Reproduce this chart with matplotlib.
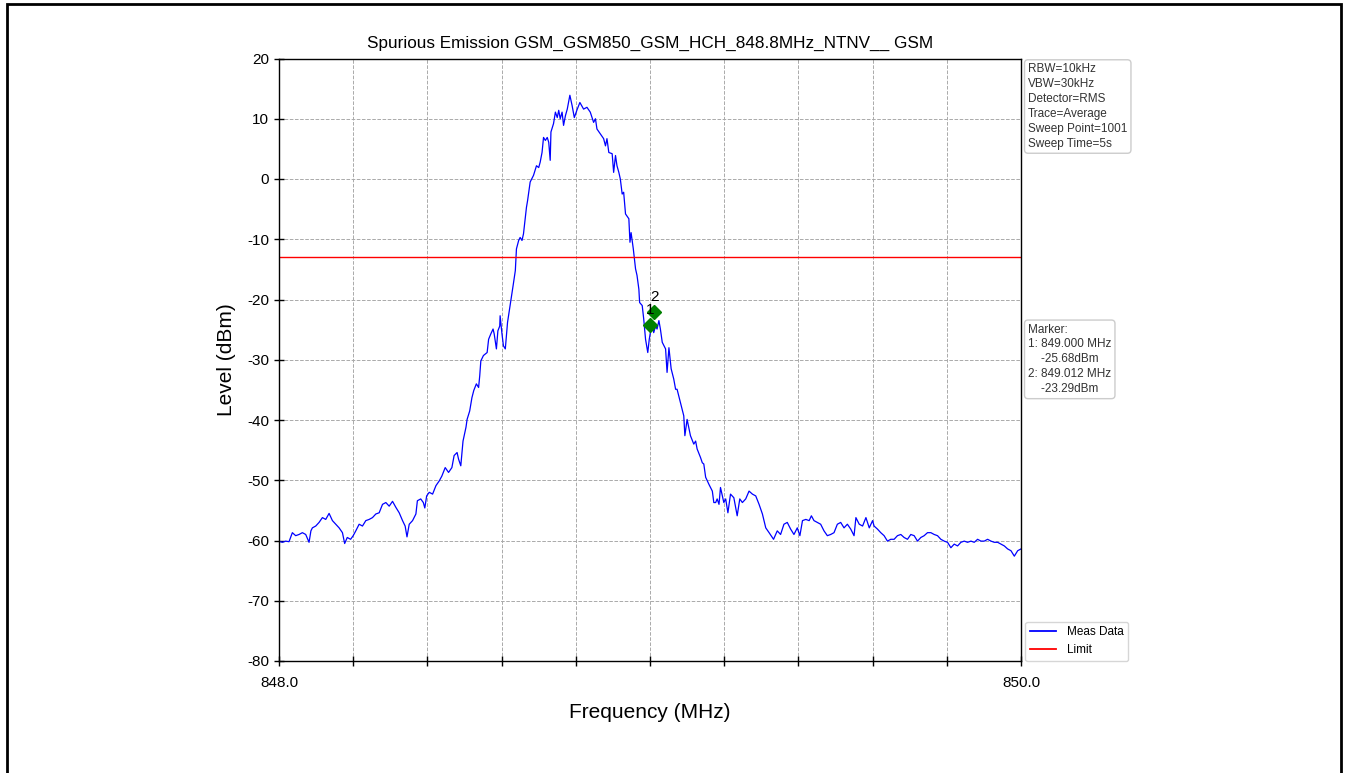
import matplotlib
matplotlib.use("Agg")
import matplotlib.pyplot as plt
from matplotlib.patches import Rectangle
from matplotlib.ticker import FixedLocator, FixedFormatter

plt.rcParams['font.family'] = ['Liberation Sans', 'DejaVu Sans']
plt.rcParams['axes.unicode_minus'] = False

# ---- data ----
freq_mhz = [
    848.000, 848.009, 848.018, 848.027, 848.036, 848.045, 848.054, 848.063, 848.072, 848.081,
    848.086, 848.090, 848.099, 848.108, 848.117, 848.126, 848.135, 848.144, 848.153, 848.162,
    848.171, 848.177, 848.184, 848.193, 848.200, 848.207, 848.216, 848.225, 848.234, 848.243,
    848.252, 848.261, 848.270, 848.279, 848.288, 848.297, 848.306, 848.315, 848.324, 848.333,
    848.340, 848.345, 848.351, 848.360, 848.369, 848.373, 848.382, 848.389, 848.393, 848.398,
    848.405, 848.414, 848.423, 848.432, 848.439, 848.448, 848.457, 848.466, 848.472, 848.480,
    848.484, 848.490, 848.496, 848.504, 848.507, 848.514, 848.520, 848.525, 848.532, 848.538,
    848.541, 848.544, 848.551, 848.561, 848.565, 848.571, 848.577, 848.580, 848.586, 848.590,
    848.595, 848.596, 848.601, 848.605, 848.610, 848.616, 848.623, 848.631, 848.637, 848.640,
    848.646, 848.650, 848.655, 848.659, 848.667, 848.670, 848.677, 848.686, 848.694, 848.700,
    848.704, 848.709, 848.713, 848.718, 848.723, 848.727, 848.731, 848.733, 848.740, 848.745,
    848.750, 848.754, 848.758, 848.763, 848.767, 848.772, 848.777, 848.784, 848.790, 848.796,
    848.804, 848.811, 848.821, 848.830, 848.839, 848.848, 848.853, 848.857, 848.866, 848.875,
    848.880, 848.884, 848.889, 848.898, 848.902, 848.907, 848.911, 848.916, 848.920, 848.925,
    848.929, 848.934, 848.943, 848.946, 848.949, 848.955, 848.961, 848.965, 848.970, 848.972,
    848.979, 848.983, 848.988, 848.994, 848.998, 849.001, 849.006, 849.010, 849.015, 849.019,
    849.024, 849.028, 849.033, 849.042, 849.046, 849.051, 849.057, 849.064, 849.069, 849.073,
    849.082, 849.091, 849.094, 849.100, 849.109, 849.118, 849.123, 849.127, 849.136, 849.141,
    849.145, 849.150, 849.159, 849.168, 849.172, 849.177, 849.181, 849.186, 849.190, 849.195,
    849.199, 849.204, 849.210, 849.217, 849.226, 849.235, 849.242, 849.249, 849.258, 849.267,
    849.276, 849.285, 849.294, 849.303, 849.312, 849.321, 849.333, 849.343, 849.352, 849.361,
    849.370, 849.379, 849.388, 849.397, 849.404, 849.411, 849.420, 849.429, 849.435, 849.442,
    849.451, 849.460, 849.469, 849.478, 849.487, 849.496, 849.505, 849.514, 849.523, 849.532,
    849.541, 849.550, 849.555, 849.564, 849.573, 849.582, 849.591, 849.600, 849.604, 849.613,
    849.622, 849.631, 849.640, 849.649, 849.658, 849.667, 849.676, 849.685, 849.694, 849.703,
    849.712, 849.721, 849.730, 849.739, 849.748, 849.757, 849.766, 849.775, 849.784, 849.793,
    849.802, 849.811, 849.820, 849.829, 849.838, 849.847, 849.856, 849.865, 849.874, 849.883,
    849.892, 849.901, 849.910, 849.919, 849.928, 849.937, 849.946, 849.955, 849.964, 849.973,
    849.982, 849.991, 850.000,
]
level_dbm = [
    -60.1, -60.3, -60.1, -60.2, -58.7, -59.2, -59.0, -58.7, -59.0, -60.3,
    -58.4, -57.9, -57.6, -57.0, -56.2, -56.5, -55.5, -56.7, -57.3, -57.9,
    -58.7, -60.5, -59.5, -59.8, -59.2, -58.4, -57.3, -57.6, -56.7, -56.5,
    -56.2, -55.6, -55.4, -54.0, -53.7, -54.3, -53.5, -54.5, -55.4, -56.7,
    -57.6, -59.4, -57.3, -56.7, -55.6, -53.4, -53.1, -53.7, -54.6, -52.6,
    -52.0, -52.3, -50.9, -50.1, -49.3, -47.9, -48.7, -47.9, -45.9, -45.4,
    -46.5, -47.6, -43.5, -41.2, -39.9, -38.5, -36.3, -35.1, -34.0, -34.6,
    -32.7, -30.2, -29.3, -28.8, -26.6, -25.7, -24.9, -25.7, -28.2, -25.2,
    -24.4, -22.7, -25.7, -27.7, -28.2, -23.8, -21.0, -17.7, -15.2, -11.6,
    -10.2, -9.7, -10.2, -9.1, -4.7, -3.6, -0.5, 0.6, 2.2, 1.9,
    2.8, 4.4, 6.9, 6.4, 6.9, 6.1, 3.1, 7.8, 9.2, 11.1,
    10.2, 11.4, 10.0, 11.1, 8.9, 10.5, 11.6, 13.9, 12.2, 10.2,
    11.6, 12.7, 11.6, 11.9, 11.1, 9.4, 10.0, 8.3, 7.5, 6.7,
    5.5, 6.7, 4.4, 4.2, 1.1, 3.9, 2.2, 1.1, 0.0, -2.5,
    -2.2, -5.8, -6.6, -10.5, -8.9, -11.6, -14.9, -16.0, -18.3, -20.5,
    -21.0, -23.2, -26.6, -28.8, -26.6, -25.5, -23.8, -25.5, -24.4, -24.9,
    -23.5, -24.9, -27.1, -28.2, -32.1, -28.0, -31.5, -33.2, -34.9, -34.9,
    -37.1, -39.3, -42.6, -39.9, -42.6, -44.0, -43.5, -44.8, -46.2, -47.1,
    -47.3, -49.5, -50.7, -51.8, -53.7, -53.7, -53.1, -54.0, -51.2, -52.6,
    -53.7, -53.1, -55.4, -52.3, -52.9, -55.9, -53.1, -53.7, -53.1, -51.8,
    -52.3, -52.6, -54.0, -55.6, -57.9, -58.7, -59.8, -58.4, -59.0, -57.3,
    -57.0, -58.1, -59.0, -57.9, -59.2, -56.7, -56.5, -56.7, -55.9, -56.7,
    -57.0, -57.3, -58.4, -59.2, -59.0, -58.7, -57.3, -57.0, -57.9, -57.3,
    -58.1, -59.2, -56.2, -57.3, -57.6, -56.2, -57.9, -56.7, -57.6, -58.1,
    -58.7, -59.2, -60.1, -59.8, -59.8, -59.2, -59.0, -59.5, -59.8, -59.0,
    -59.2, -60.1, -59.5, -59.2, -58.7, -58.7, -59.0, -59.2, -59.8, -60.1,
    -60.3, -61.2, -60.6, -60.9, -60.3, -60.1, -60.3, -60.1, -60.3, -59.8,
    -60.1, -60.1, -59.8, -60.1, -60.3, -60.3, -60.6, -60.9, -61.4, -61.7,
    -62.6, -61.7, -61.4,
]
limit_dbm = -13.0
marker_ids = ["1", "2"]
marker_freq = [849.000, 849.012]
marker_level_drawn = [-24.3, -22.1]
marker_readout = ["Marker:", "1: 849.000 MHz", "    -25.68dBm", "2: 849.012 MHz", "    -23.29dBm"]
settings = ["RBW=10kHz", "VBW=30kHz", "Detector=RMS", "Trace=Average",
            "Sweep Point=1001", "Sweep Time=5s"]
x_ticks = [848.0 + 0.2 * i for i in range(11)]
x_tick_labels = ["848.0"] + [""] * 9 + ["850.0"]
y_ticks = list(range(-80, 21, 10))
title = "Spurious Emission GSM_GSM850_GSM_HCH_848.8MHz_NTNV__ GSM"

# ---- figure ----
fig = plt.figure(figsize=(13.48, 7.73), dpi=100)
ax = fig.add_axes([279 / 1348, 1 - 661 / 773, (1021 - 279) / 1348, (661 - 58.5) / 773])

line_meas, = ax.plot(freq_mhz, level_dbm, color='blue', lw=0.9, label='Meas Data')
line_lim = ax.axhline(limit_dbm, color='red', lw=1.0, label='Limit')

for mid, mf, ml in zip(marker_ids, marker_freq, marker_level_drawn):
    ax.plot([mf], [ml], marker='D', color='green', markersize=7, linestyle='none', zorder=5)
    ax.annotate(mid, (mf, ml), xytext=(0, 6), textcoords='offset points',
                ha='center', va='bottom', fontsize=11, color='black', zorder=6)

ax.set_xlim(848.0, 850.0)
ax.set_ylim(-80, 20)
ax.xaxis.set_major_locator(FixedLocator(x_ticks))
ax.xaxis.set_major_formatter(FixedFormatter(x_tick_labels))
ax.set_yticks(y_ticks)
ax.tick_params(axis='both', direction='inout', length=7, width=1, labelsize=11)
ax.tick_params(axis='x', pad=7)
ax.grid(True, linestyle='--', color='#aaaaaa', lw=0.7)
for s in ax.spines.values():
    s.set_linewidth(1.0)

ax.set_title(title, fontsize=12.3, pad=8)
ax.set_xlabel("Frequency (MHz)", fontsize=15, labelpad=10)
ax.set_ylabel("Level (dBm)", fontsize=15, labelpad=8)

bbox_kw = dict(boxstyle='round,pad=0.3', fc='white', ec='#cccccc', lw=1.0)
ax.text(1.0095, 0.992, "\n".join(settings), transform=ax.transAxes, ha='left', va='top',
        fontsize=8.5, color='#333333', bbox=bbox_kw, linespacing=1.32)
ax.text(1.0095, 0.56, "\n".join(marker_readout), transform=ax.transAxes, ha='left', va='top',
        fontsize=8.5, color='#333333', bbox=bbox_kw, linespacing=1.32)

leg = ax.legend(handles=[line_meas, line_lim], loc='lower left', bbox_to_anchor=(1.006, 0.0),
                fontsize=8.5, frameon=True, fancybox=True, borderaxespad=0.0,
                handlelength=2.2, handletextpad=0.9, labelspacing=0.5)
leg.get_frame().set_edgecolor('#cccccc')
for h in leg.get_lines():
    h.set_linewidth(1.3)

fig.patches.append(Rectangle((7 / 1348, -0.05), (1341 - 7) / 1348, 1.05 - 4 / 773,
                             transform=fig.transFigure, fill=False, ec='black', lw=2))

fig.savefig("out.png", dpi=100)
